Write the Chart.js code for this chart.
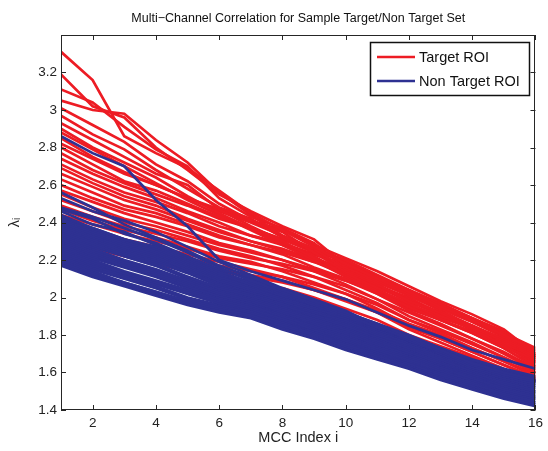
<!DOCTYPE html>
<html>
<head>
<meta charset="utf-8">
<title>Multi-Channel Correlation</title>
<script src="https://cdn.jsdelivr.net/npm/chart.js@4.4.0/dist/chart.umd.min.js"></script>
<style>
  html, body { margin: 0; padding: 0; background: #fff; }
  #wrap { width: 548px; height: 451px; }
</style>
</head>
<body>
<div id="wrap"><canvas id="mcc-chart" width="548" height="451"></canvas></div>
<script>
// indice MCC (eje x)
const mccIndex = [1, 2, 3, 4, 5, 6, 7, 8, 9, 10, 11, 12, 13, 14, 15, 16];
const xTicks = [2, 4, 6, 8, 10, 12, 14, 16];
const yTicks = [1.4, 1.6, 1.8, 2, 2.2, 2.4, 2.6, 2.8, 3, 3.2];

const chartTitle = 'Multi\u2212Channel Correlation for Sample Target/Non Target Set';
const xTitle = 'MCC Index i';
const yTitle = '\u03bb\u1d62';
const legendLabels = ['Target ROI', 'Non Target ROI'];

// curvas Target ROI (rojo) - leidas a ojo de la figura
const targetCurves = [
  [3.31, 3.16, 2.86, 2.77, 2.69, 2.57, 2.45, 2.36, 2.27, 2.18, 2.10, 2.03, 1.95, 1.88, 1.80, 1.72],
  [3.19, 3.02, 2.96, 2.80, 2.68, 2.55, 2.46, 2.38, 2.31, 2.17, 2.11, 2.04, 1.96, 1.89, 1.81, 1.73],
  [3.11, 3.04, 2.91, 2.79, 2.70, 2.53, 2.43, 2.37, 2.29, 2.16, 2.09, 2.02, 1.94, 1.87, 1.79, 1.71],
  [3.05, 3.00, 2.98, 2.84, 2.72, 2.56, 2.44, 2.33, 2.26, 2.15, 2.08, 2.01, 1.93, 1.85, 1.78, 1.70],
  [3.01, 2.92, 2.83, 2.71, 2.62, 2.50, 2.41, 2.35, 2.24, 2.14, 2.07, 1.98, 1.92, 1.84, 1.77, 1.69],
  [2.97, 2.87, 2.79, 2.68, 2.58, 2.48, 2.42, 2.32, 2.25, 2.13, 2.05, 1.99, 1.90, 1.85, 1.76, 1.68],
  [2.93, 2.84, 2.75, 2.66, 2.60, 2.47, 2.38, 2.30, 2.21, 2.15, 2.06, 2.00, 1.91, 1.83, 1.75, 1.69],
  [2.90, 2.80, 2.72, 2.64, 2.54, 2.45, 2.37, 2.29, 2.22, 2.12, 2.04, 1.97, 1.89, 1.84, 1.74, 1.67],
  [2.88, 2.79, 2.70, 2.61, 2.52, 2.44, 2.36, 2.28, 2.20, 2.11, 2.03, 1.95, 1.88, 1.82, 1.74, 1.66],
  [2.85, 2.75, 2.67, 2.60, 2.53, 2.46, 2.40, 2.33, 2.26, 2.20, 2.12, 2.04, 1.97, 1.89, 1.82, 1.69],
  [2.82, 2.74, 2.66, 2.60, 2.53, 2.47, 2.41, 2.36, 2.28, 2.21, 2.14, 2.06, 1.98, 1.91, 1.83, 1.70],
  [2.80, 2.71, 2.62, 2.57, 2.50, 2.43, 2.37, 2.31, 2.24, 2.17, 2.10, 2.01, 1.94, 1.87, 1.79, 1.67],
  [2.77, 2.68, 2.61, 2.55, 2.49, 2.42, 2.37, 2.31, 2.25, 2.19, 2.11, 2.03, 1.96, 1.89, 1.81, 1.68],
  [2.74, 2.66, 2.59, 2.53, 2.46, 2.40, 2.33, 2.28, 2.21, 2.14, 2.06, 1.98, 1.91, 1.83, 1.75, 1.64],
  [2.71, 2.63, 2.56, 2.51, 2.45, 2.38, 2.33, 2.29, 2.23, 2.17, 2.10, 2.02, 1.95, 1.88, 1.80, 1.68],
  [2.69, 2.61, 2.54, 2.49, 2.42, 2.36, 2.30, 2.25, 2.19, 2.12, 2.04, 1.96, 1.88, 1.81, 1.73, 1.63],
  [2.66, 2.59, 2.52, 2.47, 2.41, 2.35, 2.30, 2.26, 2.20, 2.14, 2.06, 1.98, 1.91, 1.84, 1.76, 1.65],
  [2.63, 2.56, 2.49, 2.45, 2.39, 2.33, 2.28, 2.23, 2.16, 2.10, 2.02, 1.93, 1.86, 1.78, 1.70, 1.61],
  [2.60, 2.53, 2.47, 2.43, 2.38, 2.32, 2.28, 2.24, 2.19, 2.14, 2.07, 1.99, 1.92, 1.85, 1.77, 1.66],
  [2.57, 2.51, 2.45, 2.40, 2.35, 2.29, 2.25, 2.20, 2.14, 2.07, 1.99, 1.90, 1.83, 1.76, 1.68, 1.60],
  [2.55, 2.48, 2.42, 2.38, 2.33, 2.28, 2.24, 2.20, 2.15, 2.09, 2.02, 1.94, 1.88, 1.81, 1.73, 1.63],
  [2.52, 2.46, 2.40, 2.36, 2.31, 2.26, 2.22, 2.17, 2.11, 2.04, 1.97, 1.88, 1.81, 1.73, 1.66, 1.58],
  [2.49, 2.43, 2.38, 2.34, 2.30, 2.25, 2.21, 2.18, 2.14, 2.09, 2.03, 1.96, 1.90, 1.83, 1.75, 1.65],
  [2.47, 2.41, 2.36, 2.32, 2.27, 2.22, 2.19, 2.14, 2.08, 2.02, 1.94, 1.85, 1.78, 1.71, 1.64, 1.57],
  [2.44, 2.39, 2.34, 2.30, 2.26, 2.21, 2.18, 2.15, 2.11, 2.06, 1.99, 1.92, 1.85, 1.78, 1.71, 1.62],
  [2.41, 2.36, 2.31, 2.27, 2.23, 2.19, 2.15, 2.11, 2.05, 1.99, 1.92, 1.83, 1.76, 1.69, 1.62, 1.55],
  [2.38, 2.34, 2.29, 2.25, 2.21, 2.17, 2.14, 2.11, 2.07, 2.02, 1.96, 1.88, 1.82, 1.75, 1.68, 1.60],
  [2.36, 2.31, 2.27, 2.23, 2.19, 2.15, 2.12, 2.09, 2.04, 1.98, 1.92, 1.84, 1.78, 1.71, 1.64, 1.57],
  [2.33, 2.29, 2.25, 2.21, 2.17, 2.14, 2.11, 2.08, 2.04, 1.99, 1.93, 1.86, 1.80, 1.73, 1.66, 1.59],
  [2.30, 2.26, 2.22, 2.18, 2.14, 2.11, 2.08, 2.05, 2.00, 1.94, 1.88, 1.80, 1.74, 1.68, 1.61, 1.56]
];

// curvas Non Target ROI (azul)
const nonTargetCurves = [
  [2.86, 2.77, 2.70, 2.52, 2.38, 2.20, 2.14, 2.09, 2.04, 1.99, 1.92, 1.85, 1.79, 1.72, 1.67, 1.62],
  [2.56, 2.48, 2.39, 2.32, 2.25, 2.17, 2.11, 2.04, 1.98, 1.92, 1.86, 1.79, 1.72, 1.65, 1.60, 1.56],
  [2.53, 2.46, 2.41, 2.35, 2.27, 2.19, 2.12, 2.05, 1.99, 1.93, 1.85, 1.78, 1.71, 1.64, 1.59, 1.55],
  [2.48, 2.43, 2.37, 2.31, 2.24, 2.16, 2.09, 2.03, 1.97, 1.91, 1.84, 1.78, 1.72, 1.65, 1.60, 1.56],
  [2.47, 2.42, 2.34, 2.29, 2.22, 2.15, 2.10, 2.04, 1.98, 1.92, 1.85, 1.77, 1.71, 1.64, 1.59, 1.55],
  [2.46, 2.39, 2.35, 2.28, 2.21, 2.14, 2.08, 2.02, 1.96, 1.90, 1.84, 1.78, 1.70, 1.63, 1.58, 1.54],
  [2.44, 2.37, 2.31, 2.27, 2.20, 2.13, 2.07, 2.01, 1.96, 1.91, 1.84, 1.77, 1.71, 1.64, 1.59, 1.55],
  [2.43, 2.37, 2.31, 2.26, 2.19, 2.12, 2.07, 2.02, 1.97, 1.92, 1.86, 1.80, 1.73, 1.67, 1.62, 1.58],
  [2.42, 2.36, 2.30, 2.25, 2.18, 2.11, 2.06, 2.01, 1.96, 1.92, 1.85, 1.79, 1.73, 1.66, 1.61, 1.57],
  [2.41, 2.35, 2.29, 2.24, 2.17, 2.10, 2.05, 2.00, 1.95, 1.91, 1.84, 1.78, 1.72, 1.65, 1.60, 1.56],
  [2.40, 2.34, 2.28, 2.23, 2.16, 2.09, 2.04, 1.99, 1.94, 1.90, 1.83, 1.77, 1.71, 1.64, 1.60, 1.56],
  [2.39, 2.33, 2.27, 2.22, 2.15, 2.09, 2.04, 1.99, 1.94, 1.89, 1.83, 1.77, 1.71, 1.64, 1.59, 1.55],
  [2.38, 2.32, 2.26, 2.21, 2.15, 2.08, 2.03, 1.98, 1.93, 1.89, 1.82, 1.76, 1.70, 1.64, 1.59, 1.55],
  [2.37, 2.31, 2.25, 2.20, 2.14, 2.07, 2.03, 1.98, 1.92, 1.88, 1.81, 1.76, 1.70, 1.63, 1.58, 1.54],
  [2.36, 2.30, 2.24, 2.19, 2.13, 2.06, 2.02, 1.97, 1.92, 1.87, 1.80, 1.75, 1.69, 1.62, 1.57, 1.53],
  [2.35, 2.29, 2.23, 2.18, 2.11, 2.05, 2.01, 1.96, 1.91, 1.86, 1.80, 1.74, 1.68, 1.62, 1.57, 1.53],
  [2.34, 2.28, 2.22, 2.17, 2.11, 2.05, 2.01, 1.96, 1.90, 1.85, 1.79, 1.73, 1.67, 1.61, 1.56, 1.52],
  [2.33, 2.27, 2.22, 2.17, 2.10, 2.04, 2.00, 1.95, 1.90, 1.85, 1.79, 1.73, 1.67, 1.61, 1.56, 1.52],
  [2.32, 2.26, 2.20, 2.15, 2.09, 2.03, 1.99, 1.94, 1.89, 1.84, 1.78, 1.72, 1.66, 1.60, 1.55, 1.51],
  [2.31, 2.25, 2.19, 2.14, 2.08, 2.02, 1.98, 1.93, 1.88, 1.83, 1.77, 1.71, 1.65, 1.60, 1.54, 1.50],
  [2.30, 2.24, 2.18, 2.13, 2.07, 2.02, 1.98, 1.92, 1.87, 1.82, 1.76, 1.71, 1.65, 1.59, 1.54, 1.50],
  [2.29, 2.23, 2.17, 2.12, 2.06, 2.01, 1.97, 1.92, 1.86, 1.81, 1.75, 1.70, 1.64, 1.59, 1.53, 1.49],
  [2.28, 2.22, 2.17, 2.12, 2.06, 2.01, 1.97, 1.91, 1.86, 1.81, 1.75, 1.70, 1.64, 1.58, 1.53, 1.49],
  [2.27, 2.21, 2.16, 2.11, 2.05, 2.00, 1.96, 1.90, 1.85, 1.80, 1.74, 1.69, 1.63, 1.57, 1.52, 1.48],
  [2.26, 2.20, 2.14, 2.09, 2.04, 1.99, 1.95, 1.90, 1.84, 1.79, 1.73, 1.68, 1.62, 1.57, 1.51, 1.47],
  [2.25, 2.19, 2.13, 2.08, 2.03, 1.98, 1.94, 1.89, 1.83, 1.78, 1.72, 1.67, 1.61, 1.56, 1.51, 1.47],
  [2.24, 2.18, 2.13, 2.08, 2.02, 1.97, 1.94, 1.88, 1.83, 1.77, 1.72, 1.66, 1.61, 1.56, 1.50, 1.46],
  [2.23, 2.17, 2.12, 2.07, 2.02, 1.97, 1.93, 1.88, 1.82, 1.77, 1.71, 1.66, 1.60, 1.55, 1.50, 1.46],
  [2.22, 2.16, 2.11, 2.06, 2.00, 1.96, 1.92, 1.87, 1.82, 1.76, 1.71, 1.65, 1.59, 1.54, 1.49, 1.45],
  [2.21, 2.15, 2.10, 2.05, 1.99, 1.95, 1.92, 1.86, 1.81, 1.75, 1.70, 1.65, 1.59, 1.54, 1.48, 1.44],
  [2.20, 2.14, 2.08, 2.03, 1.98, 1.94, 1.91, 1.85, 1.80, 1.74, 1.69, 1.64, 1.58, 1.53, 1.48, 1.44],
  [2.19, 2.13, 2.08, 2.03, 1.98, 1.94, 1.90, 1.85, 1.80, 1.74, 1.69, 1.64, 1.58, 1.53, 1.47, 1.43],
  [2.18, 2.12, 2.07, 2.02, 1.97, 1.93, 1.90, 1.84, 1.79, 1.73, 1.68, 1.63, 1.57, 1.52, 1.47, 1.43],
  [2.17, 2.11, 2.06, 2.01, 1.96, 1.92, 1.89, 1.83, 1.78, 1.72, 1.67, 1.62, 1.56, 1.51, 1.46, 1.42]
];

const colorTarget = '#ed1c24';
const colorNonTarget = '#2e3192';
const fontFamily = '"Liberation Sans", Arial, Helvetica, sans-serif';
const inkColor = '#262626';

function armarDataset(vals, color, order) {
    return {
        data: vals.map((v, j) => ({ x: mccIndex[j], y: v })),
        borderColor: color,
        borderWidth: 2.7,
        pointRadius: 0,
        fill: false,
        tension: 0,
        order: order
    };
}

const datasets = [
    ...targetCurves.map(c => armarDataset(c, colorTarget, 1)),
    ...nonTargetCurves.map(c => armarDataset(c, colorNonTarget, 0))
];

// caja tipo MATLAB: borde, ticks hacia dentro y leyenda
const cajaPlugin = {
    id: 'cajaMatlab',
    afterDraw(chart) {
        const { ctx, chartArea: a, scales } = chart;
        const tick = 5;
        ctx.save();
        ctx.strokeStyle = inkColor;
        ctx.lineWidth = 1;
        ctx.strokeRect(Math.round(a.left) + 0.5, Math.round(a.top) + 0.5,
            Math.round(a.right - a.left) - 1, Math.round(a.bottom - a.top) - 1);

        ctx.beginPath();
        xTicks.forEach(v => {
            const px = Math.round(scales.x.getPixelForValue(v)) + 0.5;
            ctx.moveTo(px, a.bottom); ctx.lineTo(px, a.bottom - tick);
            ctx.moveTo(px, a.top); ctx.lineTo(px, a.top + tick);
        });
        yTicks.forEach(v => {
            const py = Math.round(scales.y.getPixelForValue(v)) + 0.5;
            ctx.moveTo(a.left, py); ctx.lineTo(a.left + tick, py);
            ctx.moveTo(a.right, py); ctx.lineTo(a.right - tick, py);
        });
        ctx.stroke();

        // leyenda
        const lx = 370.5, ly = 42.5, lw = 159, lh = 53;
        ctx.fillStyle = '#fff';
        ctx.fillRect(lx, ly, lw, lh);
        ctx.lineWidth = 1.5;
        ctx.strokeStyle = '#111';
        ctx.strokeRect(lx, ly, lw, lh);
        const filas = [
            { label: legendLabels[0], color: colorTarget, y: 57 },
            { label: legendLabels[1], color: colorNonTarget, y: 81 }
        ];
        ctx.font = '14.5px ' + fontFamily;
        ctx.textBaseline = 'middle';
        filas.forEach(f => {
            ctx.strokeStyle = f.color;
            ctx.lineWidth = 2.6;
            ctx.beginPath();
            ctx.moveTo(377, f.y); ctx.lineTo(415, f.y);
            ctx.stroke();
            ctx.fillStyle = '#111';
            ctx.fillText(f.label, 419, f.y + 1);
        });
        ctx.restore();
    }
};

const etiqueta = v => String(Math.round(v * 10) / 10);

const ctx = document.getElementById('mcc-chart').getContext('2d');
new Chart(ctx, {
    type: 'line',
    data: { datasets: datasets },
    options: {
        responsive: false,
        animation: false,
        devicePixelRatio: 1,
        layout: { padding: { left: 0, right: 10, top: 0, bottom: 0 } },
        plugins: {
            legend: { display: false },
            tooltip: { enabled: false },
            title: {
                display: true,
                text: chartTitle,
                fullSize: false,
                color: '#111',
                font: { family: fontFamily, size: 12.5, weight: 'normal' },
                padding: { top: 11, bottom: 9 }
            }
        },
        scales: {
            x: {
                type: 'linear',
                min: 1,
                max: 16,
                afterBuildTicks: s => { s.ticks = xTicks.map(v => ({ value: v })); },
                afterFit: s => { s.height = 41; },
                grid: { display: false, drawTicks: false, tickLength: 0 },
                border: { display: false },
                ticks: { color: '#222', padding: 5, maxRotation: 0, callback: etiqueta, font: { family: fontFamily, size: 13.5 } },
                title: { display: true, text: xTitle, color: '#222', font: { family: fontFamily, size: 14.5 }, padding: { top: 0, bottom: 4 } }
            },
            y: {
                min: 1.4,
                max: 3.4,
                afterBuildTicks: s => { s.ticks = yTicks.map(v => ({ value: v })); },
                afterFit: s => { s.width = 61; },
                grid: { display: false, drawTicks: false, tickLength: 0 },
                border: { display: false },
                ticks: { color: '#222', padding: 4, callback: etiqueta, font: { family: fontFamily, size: 13.5 } },
                title: { display: true, text: yTitle, color: '#222', font: { family: fontFamily, size: 14.5 }, padding: { top: 6, bottom: 0 } }
            }
        }
    },
    plugins: [cajaPlugin]
});
</script>
</body>
</html>
